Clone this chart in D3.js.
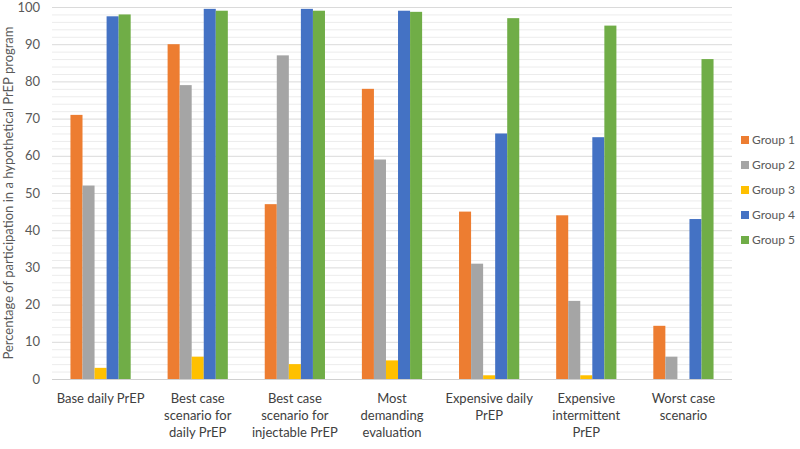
<!DOCTYPE html>
<html><head><meta charset="utf-8">
<script src="https://cdn.jsdelivr.net/npm/d3@7"></script>
<style>body{margin:0;background:#fff}svg{display:block}</style>
</head><body><svg id="c" width="800" height="449"></svg>
<script>
const categories = [
  ["Base daily PrEP"],
  ["Best case", "scenario for", "daily PrEP"],
  ["Best case", "scenario for", "injectable PrEP"],
  ["Most", "demanding", "evaluation"],
  ["Expensive daily", "PrEP"],
  ["Expensive", "intermittent", "PrEP"],
  ["Worst case", "scenario"]
];
const seriesNames = ["Group 1", "Group 2", "Group 3", "Group 4", "Group 5"];
const group1 = [71, 90, 47, 78, 45, 44, 14.3];
const group2 = [52, 79, 87, 59, 31, 21, 6];
const group3 = [3, 6, 4, 5, 1, 1, 0];
const group4 = [97.5, 99.5, 99.5, 99, 66, 65, 43];
const group5 = [98, 99, 99, 98.7, 97, 95, 86];
const yTicks = [0, 10, 20, 30, 40, 50, 60, 70, 80, 90, 100];
const colors = ["#ED7D31", "#A5A5A5", "#FFC000", "#4472C4", "#70AD47"];
const series = [group1, group2, group3, group4, group5];

(function () {
const svg = d3.select("#c");
const font = "Lato, 'Open Sans', sans-serif";
const mLeft = 52, mRight = 732, mTop = 7, mBottom = 379;

const x = d3.scaleBand().domain(d3.range(categories.length)).range([mLeft, mRight]).paddingInner(0.38).paddingOuter(0.19);
const xs = d3.scaleBand().domain(d3.range(series.length)).range([0, x.bandwidth()]);
const y = d3.scaleLinear().domain([0, 100]).range([mBottom, mTop]);

// minor gridlines
svg.append("g").selectAll("line").data(d3.range(0, 101, 2).filter(v => v % 10 !== 0)).join("line")
  .attr("x1", mLeft).attr("x2", mRight).attr("y1", d => y(d) + 0.5).attr("y2", d => y(d) + 0.5)
  .attr("stroke", "#ececec").attr("stroke-width", 1);
// major gridlines
svg.append("g").selectAll("line").data(yTicks).join("line")
  .attr("x1", mLeft).attr("x2", mRight).attr("y1", d => y(d) + 0.5).attr("y2", d => y(d) + 0.5)
  .attr("stroke", d => d === 0 ? "#d0d0d0" : "#dadada").attr("stroke-width", 1);

// y axis labels
const yAxis = d3.axisLeft(y).tickValues(yTicks).tickSize(0).tickPadding(0);
const ya = svg.append("g").attr("transform", `translate(${mLeft - 12},0)`).call(yAxis);
ya.select(".domain").remove();
ya.selectAll("text").attr("font-family", font).attr("font-size", 13).attr("fill", "#595959");

// bars
series.forEach((vals, si) => {
  svg.append("g").selectAll("rect").data(vals).join("rect")
    .attr("x", (d, i) => x(i) + xs(si))
    .attr("width", xs.bandwidth())
    .attr("y", d => y(d))
    .attr("height", d => y(0) - y(d))
    .attr("fill", colors[si]);
});

// x labels
const xl = svg.append("g");
categories.forEach((lines, i) => {
  const cx = x(i) + x.bandwidth() / 2;
  const t = xl.append("text").attr("x", cx).attr("y", 403)
    .attr("text-anchor", "middle").attr("font-family", font).attr("font-size", 13).attr("fill", "#404040");
  lines.forEach((ln, j) => t.append("tspan").attr("x", cx).attr("dy", j === 0 ? 0 : 17).text(ln));
});

// y title
svg.append("text").attr("transform", `translate(13,${(mTop + mBottom) / 2}) rotate(-90)`)
  .attr("text-anchor", "middle").attr("font-family", font).attr("font-size", 13).attr("fill", "#595959")
  .text("Percentage of participation in a hypothetical PrEP program");

// legend
const lg = svg.append("g").attr("transform", "translate(741,0)");
seriesNames.forEach((n, i) => {
  const yy = 140 + i * 25;
  lg.append("rect").attr("x", 0).attr("y", yy - 4).attr("width", 8).attr("height", 8).attr("fill", colors[i]);
  lg.append("text").attr("x", 11).attr("y", yy + 4).attr("font-family", font).attr("font-size", 12).attr("fill", "#595959").text(n);
});
})();
</script></body></html>
